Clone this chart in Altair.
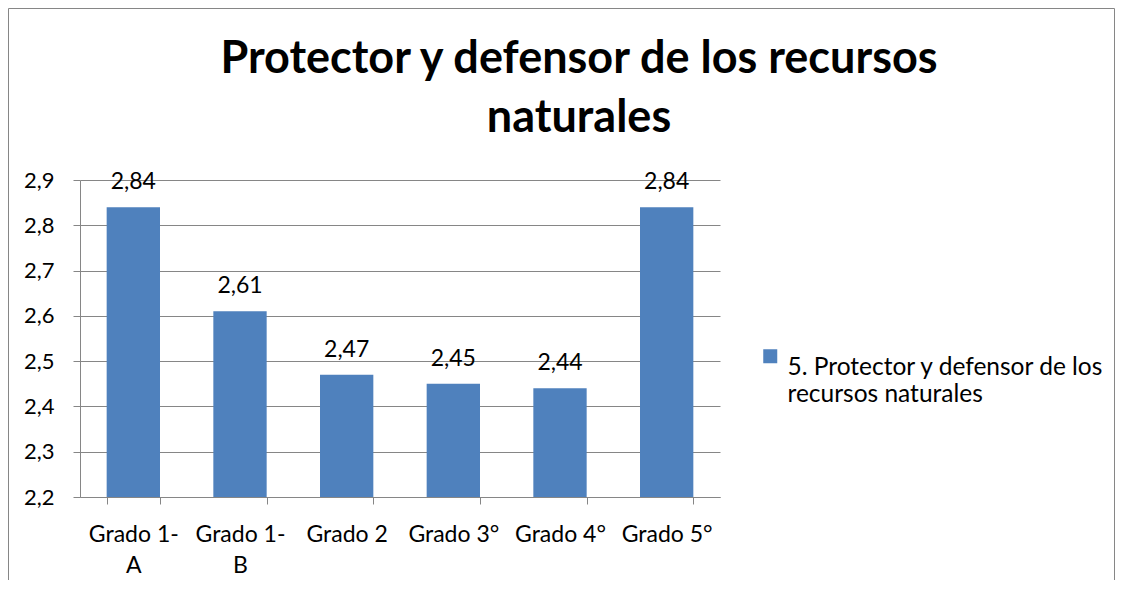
import altair as alt
import pandas as pd

categories = ["Grado 1-A", "Grado 1-B", "Grado 2", "Grado 3°", "Grado 4°", "Grado 5°"]
values = [2.84, 2.61, 2.47, 2.45, 2.44, 2.84]
series_name = "5. Protector y defensor de los recursos naturales"
y_ticks = [2.2, 2.3, 2.4, 2.5, 2.6, 2.7, 2.8, 2.9]
title_lines = ["Protector y defensor de los recursos", "naturales"]

df = pd.DataFrame({
    "Grado": categories,
    "valor": values,
    "serie": [series_name] * len(categories),
})

FONT = "Lato"
GRID = "#868686"
BLUE = "#4F81BD"

W, H = 640, 317
PAD = {"left": 72, "top": 172, "right": 395, "bottom": 83}

x_enc = alt.X(
    "Grado:N", sort=categories,
    scale=alt.Scale(paddingInner=0.5, paddingOuter=0.25),
    axis=alt.Axis(
        title=None, labelAngle=0, orient="bottom",
        labelExpr="indexof(datum.label, '-') >= 0 ? [substring(datum.label, 0, indexof(datum.label, '-') + 1), substring(datum.label, indexof(datum.label, '-') + 1)] : datum.label",
        labelFont=FONT, labelFontSize=23, labelColor="black", labelLineHeight=31,
        labelPadding=19, tickBand="extent", tickSize=7, tickColor=GRID,
        domainColor=GRID, grid=False, labelBaseline="top",
    ),
)

y_enc = alt.Y(
    "valor:Q",
    scale=alt.Scale(domain=[2.2, 2.9], zero=False, nice=False),
    axis=alt.Axis(
        title=None, values=y_ticks,
        labelExpr="replace(format(datum.value, '.1f'), '.', ',')",
        labelFont=FONT, labelFontSize=22, labelColor="black", labelPadding=19,
        tickSize=7, tickColor=GRID, domainColor=GRID, grid=True, gridColor=GRID,
    ),
)

bars = alt.Chart(df).mark_bar(color=BLUE).encode(
    x=x_enc,
    y=y_enc,
    y2=alt.datum(2.2),
    color=alt.Color(
        "serie:N", scale=alt.Scale(range=[BLUE]),
        legend=alt.Legend(
            title=None, orient="none", legendX=678, legendY=164,
            symbolType="square", symbolSize=196, symbolStrokeWidth=0,
            labelExpr="[substring(datum.label, 0, 30), substring(datum.label, 31)]",
            labelFont=FONT, labelFontSize=24.5, labelColor="black",
            labelLimit=500, labelOffset=5, padding=0, labelBaseline="top",
        ),
    ),
)

labels = alt.Chart(df).transform_calculate(
    etiqueta="replace(format(datum.valor, '.2f'), '.', ',')"
).mark_text(
    dy=-18, baseline="alphabetic", font=FONT, fontSize=23, color="black"
).encode(
    x=alt.X("Grado:N", sort=categories),
    y=alt.Y("valor:Q"),
    text="etiqueta:N",
)

frame = alt.Chart(pd.DataFrame({"k": [0]})).mark_rect(
    fill=None, stroke=GRID, strokeWidth=1
).encode(
    x=alt.value(-71.5), x2=alt.value(1034.5),
    y=alt.value(-171.5), y2=alt.value(600),
)

chart = alt.layer(frame, bars, labels).properties(
    width=W, height=H,
    padding=PAD,
    autosize=alt.AutoSizeParams(type="none"),
    title=alt.TitleParams(
        title_lines, font=FONT, fontSize=45, fontWeight="bold", color="black",
        anchor="middle", dx=179, offset=-133, lineHeight=59,
    ),
).configure_view(stroke=None)

chart.save("out.html", embed_options={"renderer": "svg", "actions": False})
